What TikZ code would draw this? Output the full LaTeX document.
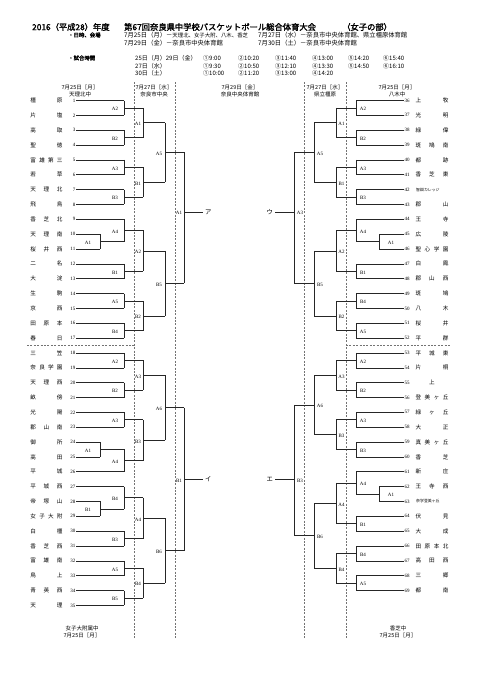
\documentclass[tikz,border=0pt]{standalone}
\usepackage{fontspec}
\setmainfont{Liberation Serif}
\newfontfamily\cjk[AutoFakeBold=2]{Noto Sans CJK JP}
\newcommand\tL[4]{%
 \node[num,anchor=east] (t#1) at (75.5,#2) {#1};
 \node[nm] (tn#1) at (46.5,#2) {\makebox[32pt][s]{#3}};
 \draw[br] ([xshift=.8pt]t#1.east) -- (#4,#2);}
\newcommand\tR[4]{%
 \node[num,anchor=west] (t#1) at (404.5,#2) {#1};
 \node[nm] (tn#1) at (432,#2) {\makebox[33pt][s]{#3}};
 \draw[br] ([xshift=-.8pt]t#1.west) -- (#4,#2);}
\newcommand\bm[6]{%
 \draw[br] (#1,#2) -- (#1,#3) (#1,{(#2+#3)/2}) -- (#4,{(#2+#3)/2});
 \node[lbl] at (#5,{(#2+#3)/2+1.2}) {#6};}
\begin{document}
\begin{tikzpicture}[x=1pt,y=-1pt,
 br/.style={line width=0.6pt,black!85},
 dl/.style={line width=0.45pt,black!55,dash pattern=on 2pt off 1.4pt},
 lbl/.style={font=\fontsize{5}{5}\selectfont,inner sep=0pt},
 num/.style={font=\fontsize{5}{5}\selectfont,inner sep=0pt},
 nm/.style={font=\cjk\fontsize{5.6}{5.6}\selectfont,inner sep=0pt},
 nms/.style={font=\cjk\fontsize{3.9}{3.9}\selectfont,inner sep=0pt,anchor=west},
 hd/.style={font=\cjk\fontsize{5.5}{6}\selectfont,inner sep=0pt},
 jp/.style={font=\cjk\fontsize{6.3}{6.3}\selectfont,inner sep=0pt,anchor=west},
 jpb/.style={font=\cjk\bfseries\fontsize{5.4}{5.4}\selectfont,inner sep=0pt,anchor=west},
 tt/.style={font=\cjk\bfseries\fontsize{8.3}{8.3}\selectfont,inner sep=0pt,anchor=west},
 tm/.style={font=\cjk\fontsize{6}{6}\selectfont,inner sep=0pt,anchor=west},
 kn/.style={font=\cjk\fontsize{6.3}{6.3}\selectfont,inner sep=0pt},
 ]
\useasboundingbox (0,0) rectangle (481,680);
\fill[white] (0,0) rectangle (481,680);
% ---------- header ----------
\node[tt] (h1) at (32,27) {2016（平成28）年度};
\node[tt] (h2) at (124,27) {第67回奈良県中学校バスケットボール総合体育大会};
\node[tt] (h3) at (342,27) {（女子の部）};
\node[jpb] (h4) at (68,35) {・日時、会場};
\node[jp] (h5) at (124,35) {7月25日（月）－{\fontsize{5.4}{5.4}\selectfont 天理北、女子大附、八木、香芝}};
\node[jp] (h6) at (258,35) {7月27日（水）－奈良市中央体育館、県立橿原体育館};
\node[jp] (h7) at (124,43) {7月29日（金）－奈良市中央体育館};
\node[jp] (h8) at (258,43) {7月30日（土）－奈良市中央体育館};
\node[jpb] (h9) at (68,58) {・試合時間};
\node[tm] (s1) at (135,58) {25日（月）29日（金）};
\node[tm] (s2) at (135,66) {27日（水）};
\node[tm] (s3) at (135,73) {30日（土）};
\foreach \x/\a/\b/\c [count=\i] in {203/①9:00/①9:30/①10:00, 238/②10:20/②10:50/②11:20, 275/③11:40/③12:10/③13:00, 312/④13:00/④13:30/④14:20, 348/⑤14:20/⑤14:50/, 383/⑥15:40/⑥16:10/}{
 \node[tm] (ta\i) at (\x,58) {\a};
 \node[tm] (tb\i) at (\x,66) {\b};
 \node[tm] (tc\i) at (\x,73) {\c};
}
\node[hd] (c1) at (80,87) {7月25日［月］}; \node[hd] (c1b) at (80,94) {天理北中};
\node[hd] (c2) at (154,87) {7月27日［水］}; \node[hd] (c2b) at (154,94) {奈良市中央};
\node[hd] (c3) at (240,87) {7月29日［金］}; \node[hd] (c3b) at (240,94) {奈良中央体育館};
\node[hd] (c4) at (325,87) {7月27日［水］}; \node[hd] (c4b) at (325,94) {県立橿原};
\node[hd] (c5) at (397,87) {7月25日［月］}; \node[hd] (c5b) at (397,94) {八木中};
\node[hd] (f1) at (82,628) {女子大附属中}; \node[hd] (f1b) at (82,635) {7月25日［月］};
\node[hd] (f2) at (398,628) {香芝中}; \node[hd] (f2b) at (398,635) {7月25日［月］};
% ---------- dashed separators ----------
\foreach \x in {134,175,304,346} \draw[dl] (\x,82) -- (\x,638);
\draw[dl] (27,345.5) -- (134,345.5);
\draw[dl] (346,345.5) -- (450,345.5);
% ---------- left teams ----------
\tL{1}{100.5}{橿 原}{124}
\tL{2}{115.35}{片 塩}{124}
\tL{3}{130.2}{高 取}{124}
\tL{4}{145.05}{聖 徳}{124}
\tL{5}{159.9}{富 雄 第 三}{124}
\tL{6}{174.75}{若 草}{124}
\tL{7}{189.6}{天 理 北}{124}
\tL{8}{204.45}{飛 鳥}{124}
\tL{9}{219.3}{香 芝 北}{124}
\tL{10}{234.15}{天 理 南}{100}
\tL{11}{249.0}{桜 井 西}{100}
\tL{12}{263.85}{二 名}{124}
\tL{13}{278.7}{大 淀}{124}
\tL{14}{293.55}{生 駒}{124}
\tL{15}{308.4}{京 西}{124}
\tL{16}{323.25}{田 原 本}{124}
\tL{17}{338.1}{春 日}{124}
\tL{18}{352.95}{三 笠}{124}
\tL{19}{367.8}{奈 良 学 園}{124}
\tL{20}{382.65}{天 理 西}{124}
\tL{21}{397.5}{畝 傍}{124}
\tL{22}{412.35}{光 陽}{124}
\tL{23}{427.2}{郡 山 南}{124}
\tL{24}{442.05}{御 所}{100}
\tL{25}{456.9}{高 田}{100}
\tL{26}{471.75}{平 城}{124}
\tL{27}{486.6}{平 城 西}{124}
\tL{28}{501.45}{帝 塚 山}{100}
\tL{29}{516.3}{女 子 大 附}{100}
\tL{30}{531.15}{白 橿}{124}
\tL{31}{546.0}{香 芝 西}{124}
\tL{32}{560.85}{富 雄 南}{124}
\tL{33}{575.7}{鳥 上}{124}
\tL{34}{590.55}{青 英 西}{124}
\tL{35}{605.4}{天 理}{124}
% ---------- right teams ----------
\tR{36}{100.5}{上 牧}{356}
\tR{37}{115.35}{光 明}{356}
\tR{38}{130.2}{緑 偉}{356}
\tR{39}{145.05}{斑 鳩 南}{356}
\tR{40}{159.9}{都 跡}{356}
\tR{41}{174.75}{香 芝 東}{356}
\node[num,anchor=west] (t42) at (404.5,189.6) {42};
\node[nms] (tn42) at (416,189.6) {智辯カレッジ};
\draw[br] ([xshift=-.8pt]t42.west) -- (356,189.6);
\tR{43}{204.45}{郡 山}{356}
\tR{44}{219.3}{王 寺}{356}
\tR{45}{234.15}{広 陵}{379}
\tR{46}{249.0}{聖 心 学 園}{379}
\tR{47}{263.85}{白 鳳}{356}
\tR{48}{278.7}{郡 山 西}{356}
\tR{49}{293.55}{斑 鳩}{356}
\tR{50}{308.4}{八 木}{356}
\tR{51}{323.25}{桜 井}{356}
\tR{52}{338.1}{平 群}{356}
\tR{53}{352.95}{平 城 東}{356}
\tR{54}{367.8}{片 桐}{356}
\node[num,anchor=west] (t55) at (404.5,382.65) {55};
\node[nm] (tn55) at (432,382.65) {上};
\draw[br] ([xshift=-.8pt]t55.west) -- (356,382.65);
\tR{56}{397.5}{登 美 ヶ 丘}{356}
\tR{57}{412.35}{緑 ヶ 丘}{356}
\tR{58}{427.2}{大 正}{356}
\tR{59}{442.05}{真 美 ヶ 丘}{356}
\tR{60}{456.9}{香 芝}{356}
\tR{61}{471.75}{新 庄}{356}
\tR{62}{486.6}{王 寺 西}{379}
\node[num,anchor=west] (t63) at (404.5,501.45) {63};
\node[nms] (tn63) at (416,501.45) {奈学登美ヶ丘};
\draw[br] ([xshift=-.8pt]t63.west) -- (379,501.45);
\tR{64}{516.3}{伏 見}{356}
\tR{65}{531.15}{大 成}{356}
\tR{66}{546.0}{田 原 本 北}{356}
\tR{67}{560.85}{高 田 西}{356}
\tR{68}{575.7}{三 郷}{356}
\tR{69}{590.55}{都 南}{356}
% ---------- left bracket ----------
\bm{100}{234.15}{249.0}{124}{88}{A1}
\bm{100}{442.05}{456.9}{124}{88}{A1}
\bm{100}{501.45}{516.3}{124}{88}{B1}
\bm{124}{100.5}{115.35}{143}{115}{A2}
\bm{124}{130.2}{145.05}{143}{115}{B2}
\bm{124}{159.9}{174.75}{143}{115}{A3}
\bm{124}{189.6}{204.45}{143}{115}{B3}
\bm{124}{219.3}{241.575}{143}{115}{A4}
\bm{124}{263.85}{278.7}{143}{115}{B1}
\bm{124}{293.55}{308.4}{143}{115}{A5}
\bm{124}{323.25}{338.1}{143}{115}{B4}
\bm{124}{352.95}{367.8}{143}{115}{A2}
\bm{124}{382.65}{397.5}{143}{115}{B2}
\bm{124}{412.35}{427.2}{143}{115}{A3}
\bm{124}{449.475}{471.75}{143}{115}{A4}
\bm{124}{486.6}{508.875}{143}{115}{B4}
\bm{124}{531.15}{546.0}{143}{115}{B3}
\bm{124}{560.85}{575.7}{143}{115}{A5}
\bm{124}{590.55}{605.4}{143}{115}{B5}
\bm{143}{107.925}{137.625}{165}{138}{A1}
\bm{143}{167.325}{197.025}{165}{138}{B1}
\bm{143}{230.4375}{271.275}{165}{138}{A2}
\bm{143}{300.975}{330.675}{165}{138}{B2}
\bm{143}{360.375}{390.075}{165}{138}{A3}
\bm{143}{419.775}{460.6125}{165}{138}{B3}
\bm{143}{497.7375}{538.575}{165}{138}{A4}
\bm{143}{568.275}{597.975}{165}{138}{B4}
\bm{165}{122.775}{182.175}{184}{159}{A5}
\bm{165}{250.856}{315.825}{184}{159}{B5}
\bm{165}{375.225}{440.194}{184}{159}{A6}
\bm{165}{518.156}{583.125}{184}{159}{B6}
\draw[br] (184,152.475) -- (184,283.34) (184,212) -- (203,212);
\node[lbl] (fa) at (179,213) {A1};
\node[kn,anchor=west] (ka) at (205,212) {ア};
\draw[br] (184,407.71) -- (184,550.64) (184,479.2) -- (203,479.2);
\node[lbl] (fb) at (179,480.4) {B1};
\node[kn,anchor=west] (kb) at (205,479.2) {イ};
% ---------- right bracket ----------
\bm{379}{234.15}{249.0}{356}{391}{A1}
\bm{379}{486.6}{501.45}{356}{391}{A1}
\bm{356}{100.5}{115.35}{336}{363}{A2}
\bm{356}{130.2}{145.05}{336}{363}{B2}
\bm{356}{159.9}{174.75}{336}{363}{A3}
\bm{356}{189.6}{204.45}{336}{363}{B3}
\bm{356}{219.3}{241.575}{336}{363}{A4}
\bm{356}{263.85}{278.7}{336}{363}{B1}
\bm{356}{293.55}{308.4}{336}{363}{B4}
\bm{356}{323.25}{338.1}{336}{363}{A5}
\bm{356}{352.95}{367.8}{336}{363}{A2}
\bm{356}{382.65}{397.5}{336}{363}{B2}
\bm{356}{412.35}{427.2}{336}{363}{A3}
\bm{356}{442.05}{456.9}{336}{363}{B3}
\bm{356}{471.75}{494.025}{336}{363}{A4}
\bm{356}{516.3}{531.15}{336}{363}{B1}
\bm{356}{546.0}{560.85}{336}{363}{B4}
\bm{356}{575.7}{590.55}{336}{363}{A5}
\bm{336}{107.925}{137.625}{314}{341.5}{A1}
\bm{336}{167.325}{197.025}{314}{341.5}{B1}
\bm{336}{230.4375}{271.275}{314}{341.5}{A2}
\bm{336}{300.975}{330.675}{314}{341.5}{B2}
\bm{336}{360.375}{390.075}{314}{341.5}{A3}
\bm{336}{419.775}{449.475}{314}{341.5}{B3}
\bm{336}{482.8875}{523.725}{314}{341.5}{A4}
\bm{336}{553.425}{583.125}{314}{341.5}{B4}
\bm{314}{122.775}{182.175}{294}{320}{A5}
\bm{314}{250.856}{315.825}{294}{320}{B5}
\bm{314}{375.225}{434.625}{294}{320}{A6}
\bm{314}{503.306}{568.275}{294}{320}{B6}
\draw[br] (294,152.475) -- (294,283.34) (294,212) -- (275,212);
\node[lbl] (fc) at (300,213) {A3};
\node[kn,anchor=east] (kc) at (273,212) {ウ};
\draw[br] (294,404.925) -- (294,535.79) (294,479.2) -- (275,479.2);
\node[lbl] (fd) at (300,480.4) {B3};
\node[kn,anchor=east] (kd) at (273,479.2) {エ};
\end{tikzpicture}
\end{document}
